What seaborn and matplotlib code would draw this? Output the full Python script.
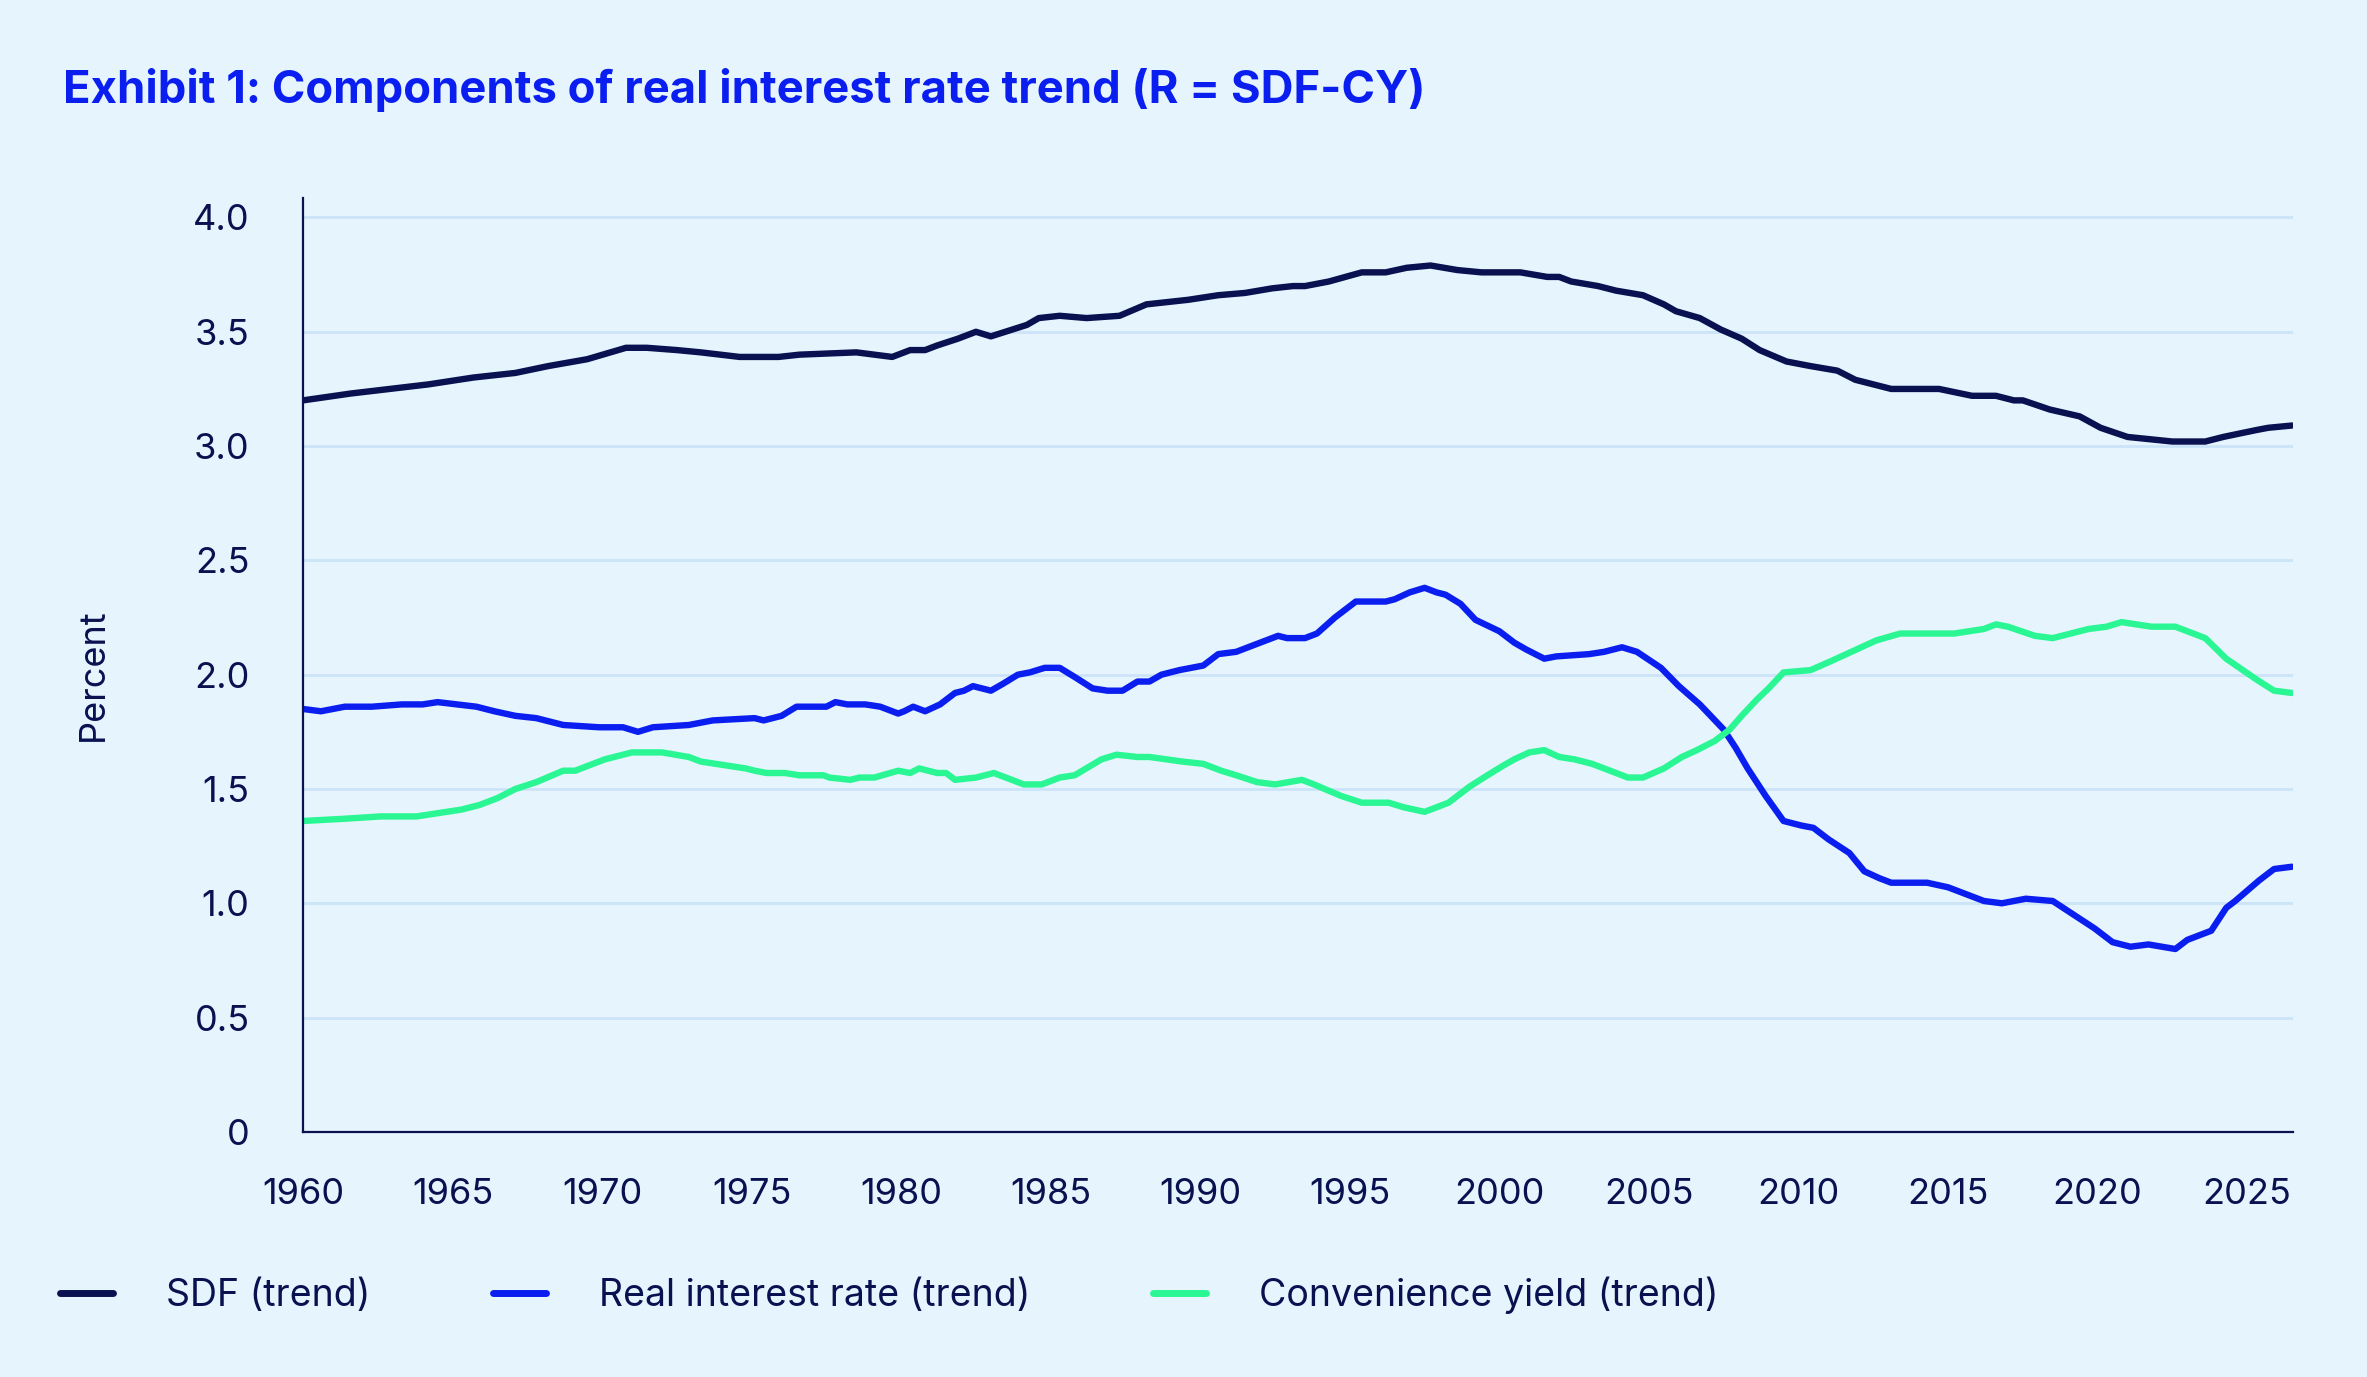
import pandas as pd
import numpy as np
import matplotlib.pyplot as plt
import seaborn as sns

# 数据 (从图上读取的值: 年份, 百分比)
sdf_points = [
    (1960.0, 3.20), (1961.6, 3.23), (1964.2, 3.27), (1965.7, 3.30), (1967.1, 3.32),
    (1968.2, 3.35), (1969.5, 3.38), (1970.8, 3.43), (1971.5, 3.43), (1972.5, 3.42),
    (1973.3, 3.41), (1974.6, 3.39), (1975.9, 3.39), (1976.6, 3.40), (1978.5, 3.41),
    (1979.7, 3.39), (1980.3, 3.42), (1980.8, 3.42), (1981.2, 3.44), (1981.9, 3.47),
    (1982.5, 3.50), (1983.0, 3.48), (1984.2, 3.53), (1984.6, 3.56), (1985.3, 3.57),
    (1986.2, 3.56), (1987.3, 3.57), (1988.2, 3.62), (1989.6, 3.64), (1990.6, 3.66),
    (1991.5, 3.67), (1992.4, 3.69), (1993.1, 3.70), (1993.5, 3.70), (1994.3, 3.72),
    (1995.4, 3.76), (1996.2, 3.76), (1996.9, 3.78), (1997.7, 3.79), (1998.6, 3.77),
    (1999.4, 3.76), (2000.7, 3.76), (2001.6, 3.74), (2002.0, 3.74), (2002.4, 3.72),
    (2003.3, 3.70), (2003.9, 3.68), (2004.8, 3.66), (2005.5, 3.62), (2005.9, 3.59),
    (2006.7, 3.56), (2007.4, 3.51), (2008.1, 3.47), (2008.7, 3.42), (2009.6, 3.37),
    (2010.4, 3.35), (2011.3, 3.33), (2011.9, 3.29), (2013.1, 3.25), (2014.3, 3.25),
    (2014.7, 3.25), (2015.8, 3.22), (2016.6, 3.22), (2017.2, 3.20), (2017.5, 3.20),
    (2018.4, 3.16), (2019.4, 3.13), (2020.1, 3.08), (2021.0, 3.04), (2022.5, 3.02),
    (2023.6, 3.02), (2024.2, 3.04), (2025.3, 3.07), (2025.7, 3.08), (2026.5, 3.09),
]

real_rate_points = [
    (1960.0, 1.85), (1960.6, 1.84), (1961.4, 1.86), (1962.3, 1.86), (1963.3, 1.87),
    (1964.0, 1.87), (1964.5, 1.88), (1965.8, 1.86), (1966.4, 1.84), (1967.1, 1.82),
    (1967.8, 1.81), (1968.7, 1.78), (1969.9, 1.77), (1970.7, 1.77), (1971.2, 1.75),
    (1971.7, 1.77), (1972.9, 1.78), (1973.3, 1.79), (1973.7, 1.80), (1975.1, 1.81),
    (1975.4, 1.80), (1976.0, 1.82), (1976.5, 1.86), (1977.5, 1.86), (1977.8, 1.88),
    (1978.2, 1.87), (1978.8, 1.87), (1979.3, 1.86), (1979.9, 1.83), (1980.1, 1.84),
    (1980.4, 1.86), (1980.8, 1.84), (1981.3, 1.87), (1981.8, 1.92), (1982.1, 1.93),
    (1982.4, 1.95), (1983.0, 1.93), (1983.4, 1.96), (1983.9, 2.00), (1984.3, 2.01),
    (1984.8, 2.03), (1985.3, 2.03), (1985.8, 1.99), (1986.4, 1.94), (1986.9, 1.93),
    (1987.4, 1.93), (1987.9, 1.97), (1988.3, 1.97), (1988.7, 2.00), (1989.3, 2.02),
    (1990.1, 2.04), (1990.6, 2.09), (1991.2, 2.10), (1991.8, 2.13), (1992.2, 2.15),
    (1992.6, 2.17), (1992.9, 2.16), (1993.5, 2.16), (1993.9, 2.18), (1994.5, 2.25),
    (1995.2, 2.32), (1995.5, 2.32), (1996.2, 2.32), (1996.5, 2.33), (1997.0, 2.36),
    (1997.5, 2.38), (1997.9, 2.36), (1998.2, 2.35), (1998.7, 2.31), (1999.2, 2.24),
    (2000.0, 2.19), (2000.5, 2.14), (2000.9, 2.11), (2001.5, 2.07), (2001.9, 2.08),
    (2003.0, 2.09), (2003.5, 2.10), (2004.1, 2.12), (2004.6, 2.10), (2005.4, 2.03),
    (2006.0, 1.95), (2006.7, 1.87), (2007.5, 1.76), (2007.9, 1.68), (2008.3, 1.59),
    (2008.9, 1.47), (2009.5, 1.36), (2010.1, 1.34), (2010.5, 1.33), (2011.0, 1.28),
    (2011.7, 1.22), (2012.2, 1.14), (2012.7, 1.11), (2013.1, 1.09), (2014.0, 1.09),
    (2014.3, 1.09), (2015.0, 1.07), (2015.6, 1.04), (2016.2, 1.01), (2016.8, 1.00),
    (2017.6, 1.02), (2018.5, 1.01), (2019.2, 0.95), (2019.9, 0.89), (2020.5, 0.83),
    (2021.1, 0.81), (2021.7, 0.82), (2022.6, 0.80), (2023.0, 0.84), (2023.8, 0.88),
    (2024.3, 0.98), (2024.6, 1.01), (2025.4, 1.10), (2025.9, 1.15), (2026.5, 1.16),
]

conv_yield_points = [
    (1960.0, 1.36), (1961.4, 1.37), (1962.6, 1.38), (1963.8, 1.38), (1964.3, 1.39),
    (1965.3, 1.41), (1965.9, 1.43), (1966.5, 1.46), (1967.1, 1.50), (1967.8, 1.53),
    (1968.7, 1.58), (1969.1, 1.58), (1970.1, 1.63), (1971.0, 1.66), (1972.0, 1.66),
    (1972.9, 1.64), (1973.3, 1.62), (1974.8, 1.59), (1975.1, 1.58), (1975.5, 1.57),
    (1976.1, 1.57), (1976.6, 1.56), (1977.4, 1.56), (1977.6, 1.55), (1978.3, 1.54),
    (1978.6, 1.55), (1979.1, 1.55), (1979.9, 1.58), (1980.3, 1.57), (1980.6, 1.59),
    (1981.2, 1.57), (1981.5, 1.57), (1981.8, 1.54), (1982.5, 1.55), (1983.1, 1.57),
    (1984.1, 1.52), (1984.7, 1.52), (1985.3, 1.55), (1985.8, 1.56), (1986.7, 1.63),
    (1987.2, 1.65), (1987.9, 1.64), (1988.3, 1.64), (1989.4, 1.62), (1990.1, 1.61),
    (1990.7, 1.58), (1991.2, 1.56), (1991.9, 1.53), (1992.5, 1.52), (1993.4, 1.54),
    (1993.8, 1.52), (1994.7, 1.47), (1995.4, 1.44), (1996.3, 1.44), (1996.8, 1.42),
    (1997.5, 1.40), (1998.3, 1.44), (1999.0, 1.51), (1999.6, 1.56), (2000.1, 1.60),
    (2000.5, 1.63), (2001.0, 1.66), (2001.5, 1.67), (2002.0, 1.64), (2002.5, 1.63),
    (2003.1, 1.61), (2003.7, 1.58), (2004.3, 1.55), (2004.8, 1.55), (2005.5, 1.59),
    (2006.1, 1.64), (2006.6, 1.67), (2007.2, 1.71), (2007.7, 1.76), (2008.1, 1.82),
    (2008.6, 1.89), (2009.0, 1.94), (2009.5, 2.01), (2010.4, 2.02), (2011.1, 2.06),
    (2011.6, 2.09), (2012.6, 2.15), (2013.4, 2.18), (2014.6, 2.18), (2015.2, 2.18),
    (2016.2, 2.20), (2016.6, 2.22), (2017.0, 2.21), (2017.9, 2.17), (2018.5, 2.16),
    (2019.7, 2.20), (2020.3, 2.21), (2020.8, 2.23), (2021.8, 2.21), (2022.6, 2.21),
    (2023.6, 2.16), (2024.3, 2.07), (2025.3, 1.98), (2025.9, 1.93), (2026.5, 1.92),
]

series_names = ['SDF (trend)', 'Real interest rate (trend)', 'Convenience yield (trend)']
series_colors = ['#0A1150', '#0A1EF0', '#2AF793']
y_ticks = [0, 0.5, 1.0, 1.5, 2.0, 2.5, 3.0, 3.5, 4.0]
y_tick_labels = ['0', '0.5', '1.0', '1.5', '2.0', '2.5', '3.0', '3.5', '4.0']
x_ticks = list(range(1960, 2030, 5))

# 组装长表
frames = []
for name, pts in zip(series_names, [sdf_points, real_rate_points, conv_yield_points]):
    d = pd.DataFrame(pts, columns=['year', 'value'])
    d['series'] = name
    frames.append(d)
df = pd.concat(frames, ignore_index=True)

bg = '#E6F4FD'
navy = '#0A1150'

sns.set_style('white')
plt.rcParams['font.family'] = ['Inter', 'DejaVu Sans']

fig = plt.figure(figsize=(23.67, 13.77), dpi=100, facecolor=bg)
ax = fig.add_axes([0.128, 0.178, 0.8407, 0.678])
ax.set_facecolor(bg)

sns.lineplot(data=df, x='year', y='value', hue='series', hue_order=series_names,
             palette=series_colors, estimator=None, sort=False, linewidth=4.6,
             ax=ax, legend=False)

ax.set_xlim(1960, 2026.53)
ax.set_ylim(0, 4.084)
ax.set_yticks(y_ticks)
ax.set_yticklabels(y_tick_labels)
ax.set_xticks(x_ticks)
ax.grid(axis='y', color='#CCE3F8', linewidth=2)
ax.grid(axis='x', visible=False)
ax.set_axisbelow(True)

for s in ['top', 'right']:
    ax.spines[s].set_visible(False)
for s in ['left', 'bottom']:
    ax.spines[s].set_color(navy)
    ax.spines[s].set_linewidth(1.6)

ax.tick_params(axis='both', direction='out', length=14.4, width=1.6, color=navy,
               labelcolor=navy, labelsize=26)
ax.tick_params(axis='y', pad=24)
ax.tick_params(axis='x', pad=19)
ax.set_xlabel('')
ax.set_ylabel('Percent', fontsize=26, color=navy)
ax.yaxis.set_label_coords(-0.097, 0.49)

fig.text(0.0266, 0.9254, 'Exhibit 1: Components of real interest rate trend (R = SDF-CY)',
         fontsize=32.7, fontweight='bold', color='#0A1EF0', va='baseline', ha='left')

handles = [plt.Line2D([], [], color=c, linewidth=5) for c in series_colors]
fig.legend(handles, series_names, loc='center left', bbox_to_anchor=(0.0253, 0.0595),
           frameon=False, ncol=3, fontsize=27, handlelength=1.41, handletextpad=1.41,
           columnspacing=3.28, borderpad=0, borderaxespad=0, labelcolor=navy)

plt.savefig('out.png', dpi=100, facecolor=bg)
plt.close()
